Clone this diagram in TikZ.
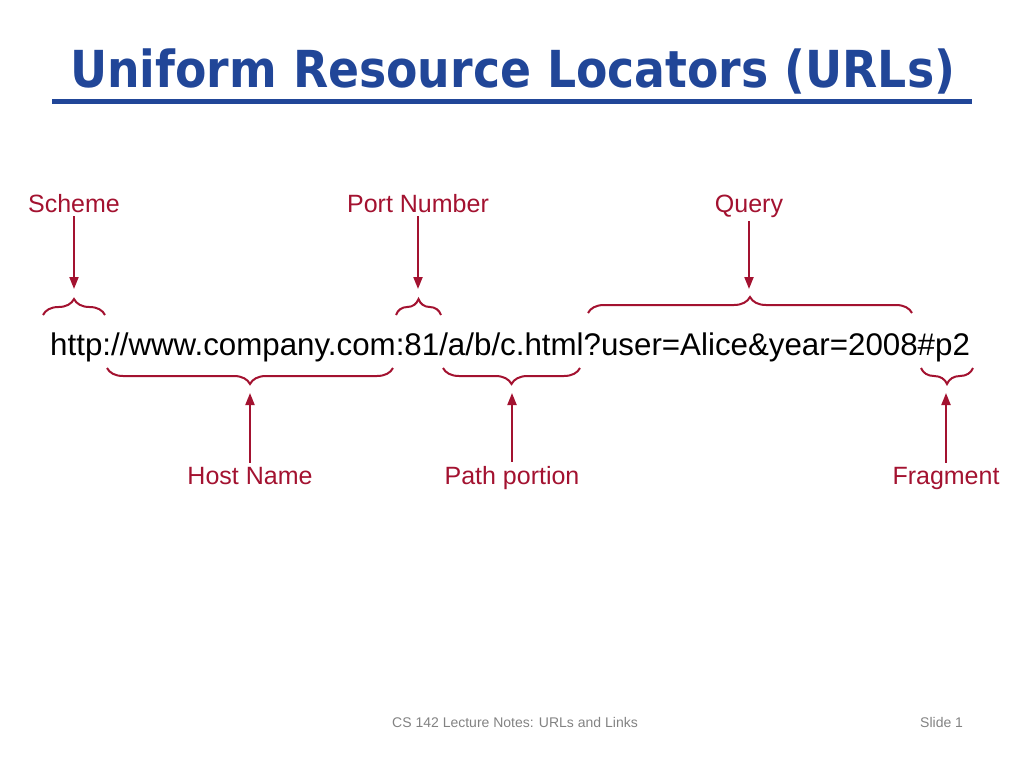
\documentclass[tikz,border=0pt]{standalone}
\usepackage{fontspec}
\setmainfont{Liberation Sans}
\newfontfamily\titlefont{DejaVu Sans}
\usetikzlibrary{arrows.meta,decorations.pathreplacing}
\definecolor{titleblue}{RGB}{33,70,152}
\definecolor{lblred}{RGB}{163,18,48}
\definecolor{footgray}{RGB}{130,130,130}
\tikzset{
  lbl/.style={text=lblred,font=\fontsize{25}{25}\selectfont,inner sep=4pt},
  arr/.style={draw=lblred,line width=2pt,-{Triangle[length=12pt,width=9pt]}},
  brc/.style={draw=lblred,line width=2pt,decorate,decoration={brace,amplitude=16pt}},
  foot/.style={text=footgray,font=\fontsize{14}{14}\selectfont,inner sep=0pt,anchor=base west}
}
\begin{document}
\begin{tikzpicture}[x=1pt,y=-1pt]
\useasboundingbox (0,0) rectangle (1024,768);
% title
\node[anchor=base west,inner sep=0pt,text=titleblue] (title) at (70,87)
  {\resizebox{885pt}{\height}{\titlefont\bfseries\fontsize{51}{51}\selectfont Uniform Resource Locators (URLs)}};
\draw[titleblue,line width=5pt] (52,101) -- (972,101);
% URL
\node[anchor=base west,inner sep=0pt,font=\fontsize{31.3}{31.3}\selectfont] (url) at (50,355)
  {http://www.company.com:81/a/b/c.html?user=Alice\&year=2008\#p2};
% brace end coordinates
\coordinate (sL) at (43,315);  \coordinate (sR) at (105,315);
\coordinate (pL) at (396,315); \coordinate (pR) at (441,315);
\coordinate (qL) at (588,313); \coordinate (qR) at (912,313);
\coordinate (hL) at (107,368); \coordinate (hR) at (393,368);
\coordinate (aL) at (443,368); \coordinate (aR) at (580,368);
\coordinate (fL) at (921,368); \coordinate (fR) at (973,368);
\draw[brc] (sL) -- (sR);
\draw[brc] (pL) -- (pR);
\draw[brc] (qL) -- (qR);
\draw[brc] (hR) -- (hL);
\draw[brc] (aR) -- (aL);
\draw[brc] (fR) -- (fL);
% labels
\node[lbl,anchor=base] (scheme) at (74,212) {Scheme};
\node[lbl,anchor=base] (port) at (418,212) {Port Number};
\node[lbl,anchor=base] (query) at (749,212) {Query};
\node[lbl,anchor=base] (host) at (250,484) {Host Name};
\node[lbl,anchor=base] (path) at (512,484) {Path portion};
\node[lbl,anchor=base] (frag) at (946,484) {Fragment};
% arrow targets
\coordinate (sT) at (74,289);
\coordinate (pT) at (418,289);
\coordinate (qT) at (749,289);
\coordinate (hT) at (250,393);
\coordinate (aT) at (512,393);
\coordinate (fT) at (946,393);
\draw[arr] (scheme.south) -- (sT);
\draw[arr] (port.south) -- (pT);
\draw[arr] (query.south) -- (qT);
\draw[arr] (host.north) -- (hT);
\draw[arr] (path.north) -- (aT);
\draw[arr] (frag.north) -- (fT);
% footer
\node[foot] (ftext) at (392,727) {CS 142 Lecture Notes: URLs and Links};
\node[foot] (slide) at (920,727) {Slide 1};
\end{tikzpicture}
\end{document}
